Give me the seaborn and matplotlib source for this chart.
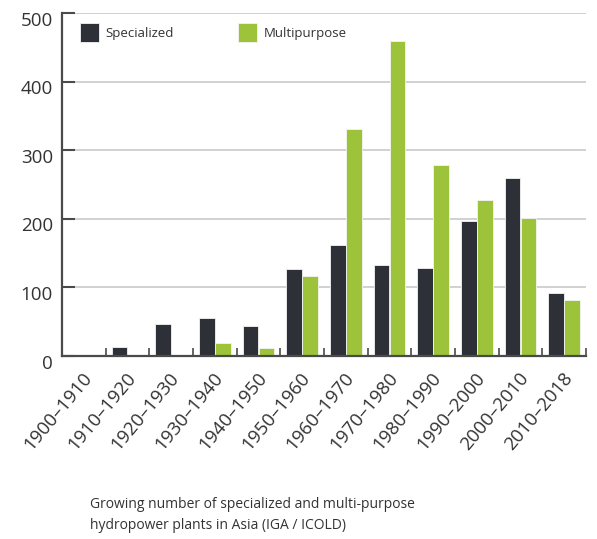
import matplotlib
matplotlib.use("Agg")
import matplotlib.pyplot as plt
import matplotlib.transforms as mtransforms
import seaborn as sns
import pandas as pd
from matplotlib.ticker import MultipleLocator

# Decades and plant counts
decades = ["1900–1910", "1910–1920", "1920–1930", "1930–1940", "1940–1950", "1950–1960",
           "1960–1970", "1970–1980", "1980–1990", "1990–2000", "2000–2010", "2010–2018"]
specialized = [0, 13, 47, 56, 44, 127, 162, 133, 129, 197, 260, 92]
multipurpose = [1, 1, 1, 19, 12, 117, 331, 459, 278, 228, 201, 82]
series_names = ["Specialized", "Multipurpose"]
y_ticks = [0, 100, 200, 300, 400, 500]
caption = ("Growing number of specialized and multi-purpose\n"
           "hydropower plants in Asia (IGA / ICOLD)")

df = pd.DataFrame({
    "decade": decades * 2,
    "type": [series_names[0]] * len(decades) + [series_names[1]] * len(decades),
    "count": specialized + multipurpose,
})

sns.set_style("white")
plt.rcParams["font.family"] = ["Open Sans", "DejaVu Sans"]

dark = "#2d3137"
green = "#9dc33b"
axis_col = "#4a4a4a"
text_col = "#333333"

fig = plt.figure(figsize=(5.97, 5.39), dpi=100)
ax = fig.add_axes([62 / 597, 1 - 356 / 539, (586 - 62) / 597, (356 - 13.3) / 539])

sns.barplot(data=df, x="decade", y="count", hue="type", order=decades,
            hue_order=series_names, palette=[dark, green], saturation=1,
            width=0.74, gap=0.04, edgecolor="#f4f4f4", linewidth=0.6,
            ax=ax, legend=True)

ax.set_xlim(-0.5, len(decades) - 0.5)
ax.set_ylim(0, 500)
ax.set_yticks(y_ticks)
ax.set_xlabel("")
ax.set_ylabel("")

# Grid and spines
ax.yaxis.grid(True, color="#c9c9c9", linewidth=1.2)
ax.set_axisbelow(True)
for s in ["top", "right"]:
    ax.spines[s].set_visible(False)
for s in ["left", "bottom"]:
    ax.spines[s].set_color(axis_col)
    ax.spines[s].set_linewidth(1.6)

ax.tick_params(axis="y", left=True, direction="in", length=9.4, width=1.5,
               color=axis_col, labelsize=13.5, labelcolor=text_col, pad=6.5)
ax.tick_params(axis="x", which="major", bottom=False, labelsize=13.5,
               labelcolor=text_col, pad=6)
ax.xaxis.set_minor_locator(MultipleLocator(1, offset=0.5))
ax.tick_params(axis="x", which="minor", bottom=True, direction="in", length=5.8,
               width=1.2, color=axis_col)

# y labels sit a little below their gridlines
shift_y = mtransforms.ScaledTranslation(0, -4 / 72, fig.dpi_scale_trans)
for lab in ax.get_yticklabels():
    lab.set_transform(lab.get_transform() + shift_y)

# rotated decade labels
shift_x = mtransforms.ScaledTranslation(-2 / 100, 0, fig.dpi_scale_trans)
for lab in ax.get_xticklabels():
    lab.set_rotation(50)
    lab.set_ha("right")
    lab.set_va("top")
    lab.set_rotation_mode("anchor")
    lab.set_transform(lab.get_transform() + shift_x)

# Legend across the top
handles, labels = ax.get_legend_handles_labels()
ax.legend(handles, labels, ncol=2, loc="upper left",
          bbox_to_anchor=(80 / 597, 1 - 23 / 539), bbox_transform=fig.transFigure,
          frameon=False, fontsize=9.5,
          handlelength=1.44, handleheight=1.82, handletextpad=0.5,
          columnspacing=4.85, borderpad=0, borderaxespad=0, labelcolor=text_col)

fig.text(90 / 597, 1 - 497 / 539, caption, fontsize=10, color=text_col,
         va="top", ha="left", linespacing=1.55)

fig.savefig("out.png", dpi=100, facecolor="white")
